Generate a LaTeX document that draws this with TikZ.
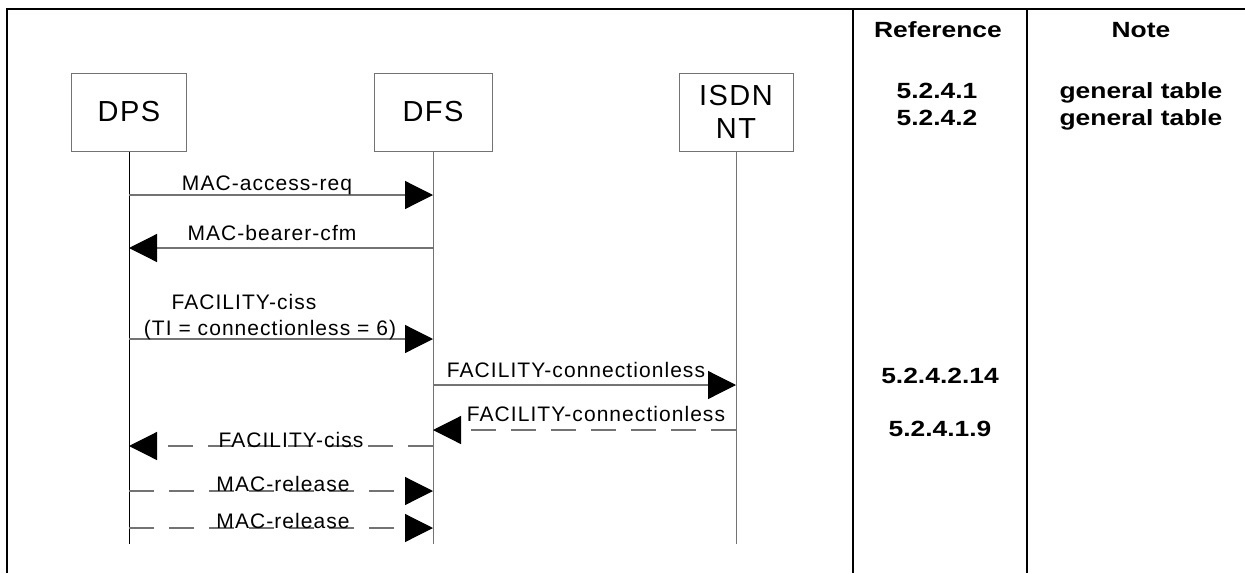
\documentclass[tikz,border=0pt]{standalone}
\usepackage{fontspec}
\setmainfont{Liberation Sans}
\newfontfamily\msgfont[LetterSpace=5]{Liberation Sans}
\newfontfamily\colfont[FakeStretch=1.2]{Liberation Sans}
\usetikzlibrary{arrows.meta}
\definecolor{linegray}{gray}{0.45}

\begin{document}
\begin{tikzpicture}[x=1pt,y=-1pt,
  entity/.style={draw=linegray,line width=1pt,minimum width=115pt,minimum height=78pt,inner sep=0pt,align=center,font=\msgfont\fontsize{29}{33}\selectfont},
  life/.style={draw=linegray,line width=1pt},
  msg/.style={draw=linegray,line width=1.2pt,-{Triangle[length=28pt,width=28pt,black]}},
  dmsg/.style={msg,dash pattern=on 25pt off 15pt},
  lbl/.style={anchor=base,inner sep=0pt,font=\msgfont\fontsize{21}{26}\selectfont},
  col/.style={anchor=base,inner sep=0pt,font=\colfont\bfseries\fontsize{22}{26}\selectfont},
  frame/.style={draw=black,line width=2.5pt}]
\useasboundingbox (0,0) rectangle (1245,573);

% table frame
\draw[frame] (7,573) -- (7,9) -- (1245,9);
\draw[frame] (853,9) -- (853,573);
\draw[frame] (1027,9) -- (1027,573);

% entities
\node[entity] (dps) at (129,112) {DPS};
\node[entity,minimum width=118pt] (dfs) at (433,112) {DFS};
\node[entity,minimum width=114pt] (isdn) at (736,112) {ISDN\\NT};

% lifelines
\coordinate (dpsend) at (129,544);
\coordinate (dfsend) at (433,544);
\coordinate (isdnend) at (736,544);
\draw[life,draw=black] (dps.south) -- (dpsend);
\draw[life] (dfs.south) -- (dfsend);
\draw[life] (isdn.south) -- (isdnend);

% points on the lifelines
\coordinate (dps1) at (129,195);  \coordinate (dfs1) at (433,195);
\coordinate (dps2) at (129,248);  \coordinate (dfs2) at (433,248);
\coordinate (dps3) at (129,339);  \coordinate (dfs3) at (433,339);
\coordinate (dfs4) at (433,385);  \coordinate (isdn4) at (736,385);
\coordinate (dfs5) at (433,430);  \coordinate (isdn5) at (736,430);
\coordinate (dps6) at (129,446);  \coordinate (dfs6) at (433,446);
\coordinate (dps7) at (129,491);  \coordinate (dfs7) at (433,491);
\coordinate (dps8) at (129,528);  \coordinate (dfs8) at (433,528);

% messages
\draw[msg] (dps1) -- (dfs1);
\node[lbl] (l1) at (267,190) {MAC-access-req};
\draw[msg] (dfs2) -- (dps2);
\node[lbl] (l2) at (272,240) {MAC-bearer-cfm};
\draw[msg] (dps3) -- (dfs3);
\node[lbl] (l3a) at (244,309) {FACILITY-ciss};
\node[lbl] (l3b) at (270,335) {(TI = connectionless = 6)};
\draw[msg] (dfs4) -- (isdn4);
\node[lbl] (l4) at (576,377) {FACILITY-connectionless};
\draw[dmsg] (isdn5) -- (dfs5);
\node[lbl] (l5) at (596,421) {FACILITY-connectionless};
\draw[dmsg] (dfs6) -- (dps6);
\node[lbl] (l6) at (291,447) {FACILITY-ciss};
\draw[dmsg] (dps7) -- (dfs7);
\node[lbl] (l7) at (283,491) {MAC-release};
\draw[dmsg] (dps8) -- (dfs8);
\node[lbl] (l8) at (283,528) {MAC-release};

% reference and note columns
\node[col] (hdref) at (938,37) {Reference};
\node[col] (hdnote) at (1141,37) {Note};
\node[col] (ref1) at (937,98) {5.2.4.1};
\node[col] (ref2) at (937,125) {5.2.4.2};
\node[col] (note1) at (1141,98) {general table};
\node[col] (note2) at (1141,125) {general table};
\node[col] (ref3) at (940,383) {5.2.4.2.14};
\node[col] (ref4) at (940,436) {5.2.4.1.9};
\end{tikzpicture}
\end{document}
